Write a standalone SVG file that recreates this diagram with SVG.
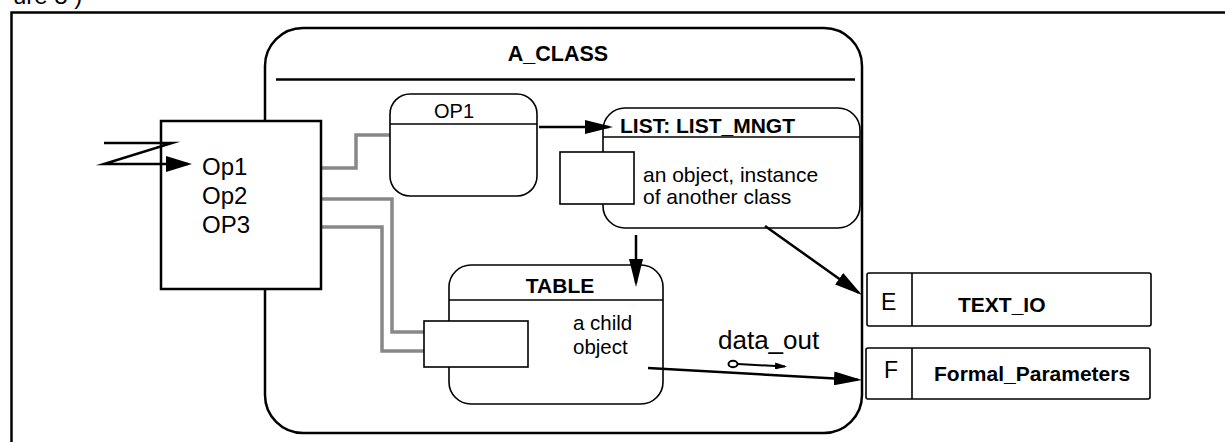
<svg xmlns="http://www.w3.org/2000/svg" width="1225" height="442" viewBox="0 0 1225 442">
  <style>
    text { font-family: "Liberation Sans", Arial, Helvetica, sans-serif; fill: #000; }
    .bold { font-weight: bold; }
    .frame { fill: none; stroke: #000; stroke-width: 2.5; }
    .cls { fill: #fff; stroke: #000; stroke-width: 2.5; }
    .obj { fill: #fff; stroke: #000; stroke-width: 1.6; }
    .sep { stroke: #000; stroke-width: 1.6; }
    .arrow { fill: none; stroke: #000; stroke-width: 2.5; }
    .link { fill: none; stroke: #888; stroke-width: 3.5; stroke-linejoin: miter; }
  </style>
  <defs>
    <marker id="head" markerUnits="userSpaceOnUse" markerWidth="28" markerHeight="14" refX="24" refY="7" orient="auto">
      <path d="M0,0 L28,7 L0,14 Z" fill="#000"/>
    </marker>
    <marker id="headZ" markerUnits="userSpaceOnUse" markerWidth="26" markerHeight="16" refX="22" refY="8" orient="auto">
      <path d="M0,0 L26,8 L0,16 Z" fill="#000"/>
    </marker>
    <marker id="headSmall" markerUnits="userSpaceOnUse" markerWidth="12" markerHeight="7" refX="10" refY="3.5" orient="auto">
      <path d="M0,0 L12,3.5 L0,7 Z" fill="#000"/>
    </marker>
  </defs>

  <!-- caption fragment above the frame -->
  <text x="13" y="4" font-size="24">ure 8 )</text>

  <!-- page frame -->
  <path class="frame" d="M11.5,442 V12.5 H1225"/>

  <!-- enclosing class -->
  <g id="a_class">
    <rect class="cls" x="265" y="28" width="597" height="405" rx="38" ry="38"/>
    <line x1="276" y1="79.5" x2="855" y2="79.5" stroke="#000" stroke-width="2.5"/>
    <text class="bold" x="558" y="61" font-size="21.5" text-anchor="middle">A_CLASS</text>
  </g>

  <!-- provided operations wiring -->
  <g id="connectors">
    <path class="link" d="M321,168 H356 V135 H390"/>
    <path class="link" d="M321,199 H392 V332 H424"/>
    <path class="link" d="M321,227 H382 V351 H424"/>
  </g>

  <!-- interface box -->
  <g id="interface">
    <rect class="cls" x="161" y="121" width="160" height="168"/>
    <text x="202" y="175" font-size="24">Op1</text>
    <text x="202" y="204" font-size="24">Op2</text>
    <text x="202" y="233" font-size="24">OP3</text>
  </g>

  <!-- operation OP1 -->
  <g id="op1">
    <rect class="obj" x="390" y="94" width="147" height="102" rx="20" ry="20"/>
    <line class="sep" x1="390" y1="124" x2="537" y2="124"/>
    <text x="454" y="118" font-size="20" text-anchor="middle">OP1</text>
  </g>

  <!-- object LIST -->
  <g id="list">
    <rect class="obj" x="603" y="108" width="257" height="120" rx="22" ry="22"/>
    <line class="sep" x1="603" y1="137" x2="860" y2="137"/>
    <text class="bold" x="620" y="133" font-size="21">LIST: LIST_MNGT</text>
    <rect class="obj" x="560" y="152" width="74" height="52"/>
    <text x="643" y="182" font-size="21">an object, instance</text>
    <text x="643" y="204" font-size="21">of another class</text>
  </g>

  <!-- child object TABLE -->
  <g id="table">
    <rect class="obj" x="449" y="265" width="214" height="139" rx="22" ry="22"/>
    <line class="sep" x1="449" y1="300" x2="663" y2="300"/>
    <text class="bold" x="560" y="293" font-size="21" text-anchor="middle">TABLE</text>
    <rect class="obj" x="424" y="321" width="104" height="46"/>
    <text x="573" y="330" font-size="20.5">a child</text>
    <text x="573" y="354" font-size="20.5">object</text>
  </g>

  <!-- imported unit TEXT_IO -->
  <g id="text_io">
    <rect class="obj" x="867" y="273" width="284" height="53" rx="2"/>
    <line class="sep" x1="912" y1="273" x2="912" y2="326"/>
    <text x="881" y="310" font-size="23">E</text>
    <text class="bold" x="958" y="312" font-size="21">TEXT_IO</text>
  </g>

  <!-- formal parameters -->
  <g id="formal_parameters">
    <rect class="obj" x="866" y="348" width="284" height="51" rx="2"/>
    <line class="sep" x1="912" y1="348" x2="912" y2="399"/>
    <text x="884" y="378" font-size="23">F</text>
    <text class="bold" x="934" y="381" font-size="21">Formal_Parameters</text>
  </g>

  <!-- control and data flows -->
  <g id="flows">
    <path class="arrow" d="M104,143 H172 L104,164 H188" stroke-width="4.5" stroke-miterlimit="10" marker-end="url(#headZ)"/>
    <path class="arrow" d="M539,127 H609" marker-end="url(#head)"/>
    <path class="arrow" d="M636,235 V283" marker-end="url(#head)"/>
    <path class="arrow" d="M765,226 L858.7,292.7" marker-end="url(#head)"/>
    <path class="arrow" d="M648,368 L858,379.8" marker-end="url(#head)"/>
    <text x="718" y="349" font-size="26">data_out</text>
    <ellipse cx="733" cy="364" rx="4.5" ry="3.2" fill="none" stroke="#000" stroke-width="2"/>
    <path d="M738,364 L785,366.5" fill="none" stroke="#000" stroke-width="2" marker-end="url(#headSmall)"/>
  </g>
</svg>
